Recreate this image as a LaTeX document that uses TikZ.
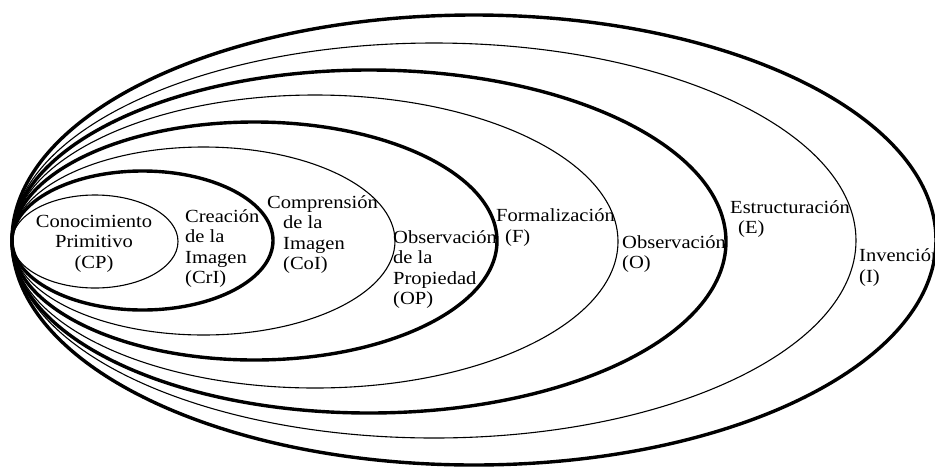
\documentclass[tikz,border=0pt]{standalone}
\usepackage{fontspec}
\setmainfont{Liberation Serif}[FakeStretch=1.11]
\begin{document}
\begin{tikzpicture}[x=1pt,y=-1pt,
  thinring/.style={draw=black,line width=1.1pt},
  thickring/.style={draw=black,line width=3.4pt},
  lbl/.style={inner sep=0pt,anchor=base west,text=black,font=\fontsize{18.5}{20.5}\selectfont},
  lblc/.style={lbl,anchor=base}]
\useasboundingbox (0,0) rectangle (935,467);
\begin{scope}
\clip (0,0) rectangle (935,467);
% nested ellipses, all tangent at the left point (12,241)
\draw[thickring] (474,240) ellipse [x radius=462pt, y radius=225pt];
\draw[thinring]  (434,240.5) ellipse [x radius=422pt, y radius=197.5pt];
\draw[thickring] (369,241.5) ellipse [x radius=357pt, y radius=171.5pt];
\draw[thinring]  (315,241.5) ellipse [x radius=303pt, y radius=146.5pt];
\draw[thickring] (254.5,241) ellipse [x radius=242.5pt, y radius=119pt];
\draw[thinring]  (203.5,241) ellipse [x radius=191.5pt, y radius=94pt];
\draw[thickring] (142.5,240.5) ellipse [x radius=130.5pt, y radius=69.5pt];
\draw[thinring]  (95,241.5) ellipse [x radius=83pt, y radius=46.5pt];
% labels
\node[lblc] (cp1) at (94,227) {Conocimiento};
\node[lblc] (cp2) at (94,247.5) {Primitivo};
\node[lblc] (cp3) at (94,268) {(CP)};
\node[lbl] (cr1) at (185,222) {Creación};
\node[lbl] (cr2) at (185,242.5) {de la};
\node[lbl] (cr3) at (185,263) {Imagen};
\node[lbl] (cr4) at (185,283.5) {(CrI)};
\node[lbl] (co1) at (267,208) {Comprensión};
\node[lbl] (co2) at (283,228.5) {de la};
\node[lbl] (co3) at (283,249) {Imagen};
\node[lbl] (co4) at (283,269.5) {(CoI)};
\node[lbl] (op1) at (393,243) {Observación};
\node[lbl] (op2) at (393,263.5) {de la};
\node[lbl] (op3) at (393,284) {Propiedad};
\node[lbl] (op4) at (393,304.5) {(OP)};
\node[lbl] (f1) at (496,221) {Formalización};
\node[lbl] (f2) at (505,242.5) {(F)};
\node[lbl] (o1) at (622,248) {Observación};
\node[lbl] (o2) at (622,268.5) {(O)};
\node[lbl] (e1) at (730,213) {Estructuración};
\node[lbl] (e2) at (738,233.5) {(E)};
\node[lbl] (i1) at (859,261.5) {Invención};
\node[lbl] (i2) at (859,282) {(I)};
\end{scope}
\end{tikzpicture}
\end{document}
